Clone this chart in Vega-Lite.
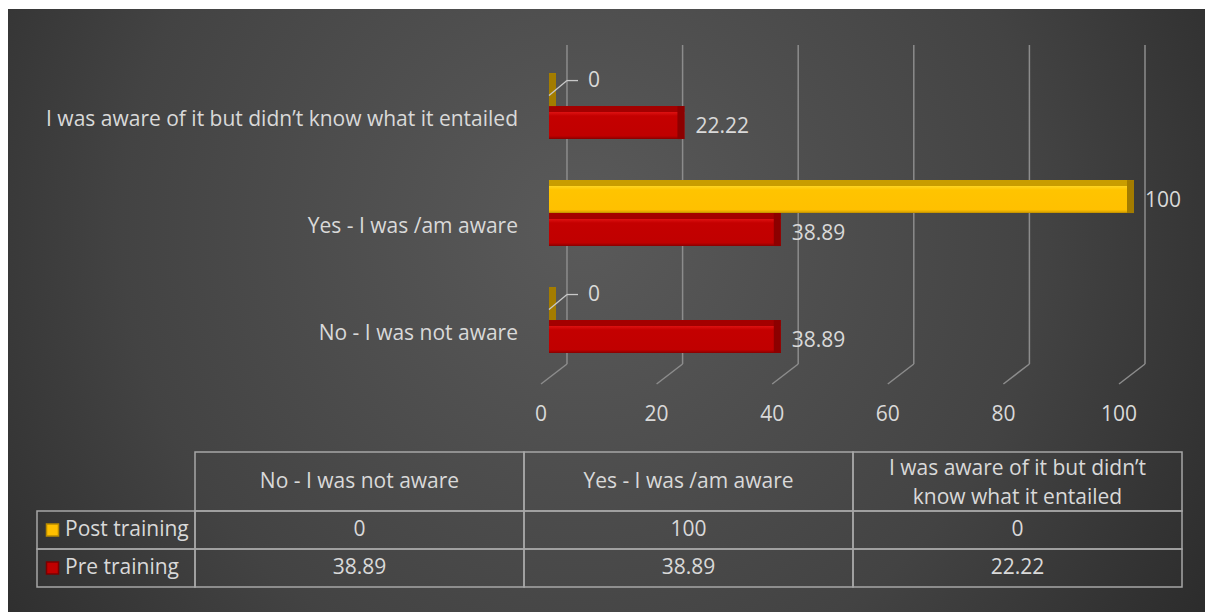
{
  "$schema": "https://vega.github.io/schema/vega-lite/v6.json",
  "width": 1205,
  "height": 612,
  "autosize": {"type": "fit", "contains": "padding"},
  "padding": {"left": 8, "top": 9, "right": 0, "bottom": 0},
  "background": "#ffffff",
  "datasets": {
    "main": [
      {"series": "Post training", "cat": "No - I was not aware", "value": 0},
      {"series": "Post training", "cat": "Yes - I was /am aware", "value": 100},
      {"series": "Post training", "cat": "I was aware of it but didn’t know what it entailed", "value": 0},
      {"series": "Pre training", "cat": "No - I was not aware", "value": 38.89},
      {"series": "Pre training", "cat": "Yes - I was /am aware", "value": 38.89},
      {"series": "Pre training", "cat": "I was aware of it but didn’t know what it entailed", "value": 22.22}
    ],
    "ticks": [{"t": 0}, {"t": 20}, {"t": 40}, {"t": 60}, {"t": 80}, {"t": 100}],
    "cats": [
      {"cat": "No - I was not aware", "lines": "No - I was not aware", "wrapped": false},
      {"cat": "Yes - I was /am aware", "lines": "Yes - I was /am aware", "wrapped": false},
      {"cat": "I was aware of it but didn’t know what it entailed", "lines": "I was aware of it but didn’t\nknow what it entailed", "wrapped": true}
    ],
    "rows": [{"series": "Post training"}, {"series": "Pre training"}]
  },
  "layer": [
    {
      "layer": [
        {
          "data": {"name": "ticks"},
          "mark": {"type": "rule", "stroke": "#8c8c8c", "strokeWidth": 1.5},
          "encoding": {
            "x": {"field": "t", "type": "quantitative", "scale": {"domain": [-96.71, 110.38], "nice": false, "zero": false}, "axis": null},
            "y": {"datum": "I was aware of it but didn’t know what it entailed", "type": "nominal", "bandPosition": -0.195, "scale": {"domain": ["I was aware of it but didn’t know what it entailed", "Yes - I was /am aware", "No - I was not aware"], "range": [36, 355], "paddingInner": 0.178, "paddingOuter": 0.08, "align": 1}, "axis": null},
            "y2": {"datum": "No - I was not aware", "bandPosition": 1}
          }
        },
        {
          "data": {"name": "ticks"},
          "mark": {"type": "rule", "stroke": "#8c8c8c", "strokeWidth": 1.5, "x2Offset": -26, "y2Offset": 20},
          "encoding": {
            "x": {"field": "t", "type": "quantitative", "scale": {"domain": [-96.71, 110.38], "nice": false, "zero": false}, "axis": null},
            "x2": {"field": "t"},
            "y": {"datum": "No - I was not aware", "type": "nominal", "bandPosition": 1, "scale": {"domain": ["I was aware of it but didn’t know what it entailed", "Yes - I was /am aware", "No - I was not aware"], "range": [36, 355], "paddingInner": 0.178, "paddingOuter": 0.08, "align": 1}, "axis": null},
            "y2": {"datum": "No - I was not aware", "bandPosition": 1}
          }
        },
        {
          "data": {"name": "ticks"},
          "mark": {"type": "text", "align": "center", "baseline": "middle", "dx": -26, "dy": 95, "fontSize": 21, "fill": "#d9d9d9"},
          "encoding": {
            "x": {"field": "t", "type": "quantitative", "scale": {"domain": [-96.71, 110.38], "nice": false, "zero": false}, "axis": null},
            "y": {"datum": "No - I was not aware", "type": "nominal", "scale": {"domain": ["I was aware of it but didn’t know what it entailed", "Yes - I was /am aware", "No - I was not aware"], "range": [36, 355], "paddingInner": 0.178, "paddingOuter": 0.08, "align": 1}, "axis": null},
            "text": {"field": "t", "type": "nominal"}
          }
        },
        {
          "data": {"name": "cats"},
          "mark": {"type": "text", "align": "right", "baseline": "middle", "dx": -49, "dy": 13.5, "fontSize": 21, "fill": "#d9d9d9"},
          "encoding": {
            "x": {"datum": 0, "type": "quantitative", "scale": {"domain": [-96.71, 110.38], "nice": false, "zero": false}, "axis": null},
            "y": {"field": "cat", "type": "nominal", "scale": {"domain": ["I was aware of it but didn’t know what it entailed", "Yes - I was /am aware", "No - I was not aware"], "range": [36, 355], "paddingInner": 0.178, "paddingOuter": 0.08, "align": 1}, "axis": null},
            "text": {"field": "cat", "type": "nominal"}
          }
        },
        {
          "data": {"name": "main"},
          "transform": [{"filter": "datum.series === 'Post training'"}],
          "mark": {"type": "bar", "xOffset": -11, "x2Offset": -18,
            "fill": {"gradient": "linear", "x1": 0, "y1": 0, "x2": 0, "y2": 1, "stops": [
              {"offset": 0, "color": "#c99d00"}, {"offset": 0.17, "color": "#c99d00"}, {"offset": 0.19, "color": "#ffd31f"},
              {"offset": 0.3, "color": "#ffc400"}, {"offset": 0.9, "color": "#ffc000"}, {"offset": 0.96, "color": "#e0a800"}, {"offset": 1, "color": "#b88a00"}]}},
          "encoding": {
            "x": {"field": "value", "type": "quantitative", "scale": {"domain": [-96.71, 110.38], "nice": false, "zero": false}, "axis": null},
            "x2": {"datum": 0},
            "y": {"field": "cat", "type": "nominal", "scale": {"domain": ["I was aware of it but didn’t know what it entailed", "Yes - I was /am aware", "No - I was not aware"], "range": [36, 355], "paddingInner": 0.178, "paddingOuter": 0.08, "align": 1}, "axis": null},
            "yOffset": {"field": "series", "type": "nominal", "scale": {"domain": ["Post training", "Pre training"], "paddingInner": 0, "paddingOuter": 0.333}}
          }
        },
        {
          "data": {"name": "main"},
          "transform": [{"filter": "datum.series === 'Pre training'"}],
          "mark": {"type": "bar", "xOffset": -11, "x2Offset": -18,
            "fill": {"gradient": "linear", "x1": 0, "y1": 0, "x2": 0, "y2": 1, "stops": [
              {"offset": 0, "color": "#a30000"}, {"offset": 0.17, "color": "#a30000"}, {"offset": 0.19, "color": "#dc1010"},
              {"offset": 0.3, "color": "#c40000"}, {"offset": 0.9, "color": "#c00000"}, {"offset": 0.96, "color": "#a00000"}, {"offset": 1, "color": "#850000"}]}},
          "encoding": {
            "x": {"field": "value", "type": "quantitative", "scale": {"domain": [-96.71, 110.38], "nice": false, "zero": false}, "axis": null},
            "x2": {"datum": 0},
            "y": {"field": "cat", "type": "nominal", "scale": {"domain": ["I was aware of it but didn’t know what it entailed", "Yes - I was /am aware", "No - I was not aware"], "range": [36, 355], "paddingInner": 0.178, "paddingOuter": 0.08, "align": 1}, "axis": null},
            "yOffset": {"field": "series", "type": "nominal", "scale": {"domain": ["Post training", "Pre training"], "paddingInner": 0, "paddingOuter": 0.333}}
          }
        },
        {
          "data": {"name": "main"},
          "mark": {"type": "bar", "xOffset": -11, "x2Offset": -18},
          "encoding": {
            "x": {"field": "value", "type": "quantitative", "scale": {"domain": [-96.71, 110.38], "nice": false, "zero": false}, "axis": null},
            "x2": {"field": "value"},
            "y": {"field": "cat", "type": "nominal", "scale": {"domain": ["I was aware of it but didn’t know what it entailed", "Yes - I was /am aware", "No - I was not aware"], "range": [36, 355], "paddingInner": 0.178, "paddingOuter": 0.08, "align": 1}, "axis": null},
            "yOffset": {"field": "series", "type": "nominal", "scale": {"domain": ["Post training", "Pre training"], "paddingInner": 0, "paddingOuter": 0.333}},
            "fill": {"field": "series", "type": "nominal", "scale": {"domain": ["Post training", "Pre training"], "range": ["#a37c00", "#8c0000"]}, "legend": null}
          }
        },
        {
          "data": {"name": "main"},
          "transform": [{"filter": "datum.value > 0"}],
          "mark": {"type": "text", "align": "left", "baseline": "middle", "dy": 4, "fontSize": 21, "fill": "#d9d9d9"},
          "encoding": {
            "x": {"field": "value", "type": "quantitative", "scale": {"domain": [-96.71, 110.38], "nice": false, "zero": false}, "axis": null},
            "y": {"field": "cat", "type": "nominal", "scale": {"domain": ["I was aware of it but didn’t know what it entailed", "Yes - I was /am aware", "No - I was not aware"], "range": [36, 355], "paddingInner": 0.178, "paddingOuter": 0.08, "align": 1}, "axis": null},
            "yOffset": {"field": "series", "type": "nominal", "scale": {"domain": ["Post training", "Pre training"], "paddingInner": 0, "paddingOuter": 0.333}},
            "text": {"field": "value", "type": "nominal"}
          }
        },
        {
          "data": {"name": "main"},
          "transform": [{"filter": "datum.value == 0"}],
          "mark": {"type": "rule", "stroke": "#c8c8c8", "strokeWidth": 1.3, "xOffset": -18, "x2Offset": 0},
          "encoding": {
            "x": {"field": "value", "type": "quantitative", "scale": {"domain": [-96.71, 110.38], "nice": false, "zero": false}, "axis": null},
            "x2": {"field": "value"},
            "y": {"field": "cat", "type": "nominal", "bandPosition": 0.381, "scale": {"domain": ["I was aware of it but didn’t know what it entailed", "Yes - I was /am aware", "No - I was not aware"], "range": [36, 355], "paddingInner": 0.178, "paddingOuter": 0.08, "align": 1}, "axis": null},
            "y2": {"field": "cat", "bandPosition": 0.21}
          }
        },
        {
          "data": {"name": "main"},
          "transform": [{"filter": "datum.value == 0"}],
          "mark": {"type": "rule", "stroke": "#c8c8c8", "strokeWidth": 1.3, "xOffset": 0, "x2Offset": 11},
          "encoding": {
            "x": {"field": "value", "type": "quantitative", "scale": {"domain": [-96.71, 110.38], "nice": false, "zero": false}, "axis": null},
            "x2": {"field": "value"},
            "y": {"field": "cat", "type": "nominal", "bandPosition": 0.21, "scale": {"domain": ["I was aware of it but didn’t know what it entailed", "Yes - I was /am aware", "No - I was not aware"], "range": [36, 355], "paddingInner": 0.178, "paddingOuter": 0.08, "align": 1}, "axis": null}
          }
        },
        {
          "data": {"name": "main"},
          "transform": [{"filter": "datum.value == 0"}],
          "mark": {"type": "text", "align": "left", "baseline": "middle", "dx": 21, "fontSize": 21, "fill": "#d9d9d9"},
          "encoding": {
            "x": {"field": "value", "type": "quantitative", "scale": {"domain": [-96.71, 110.38], "nice": false, "zero": false}, "axis": null},
            "y": {"field": "cat", "type": "nominal", "bandPosition": 0.21, "scale": {"domain": ["I was aware of it but didn’t know what it entailed", "Yes - I was /am aware", "No - I was not aware"], "range": [36, 355], "paddingInner": 0.178, "paddingOuter": 0.08, "align": 1}, "axis": null},
            "text": {"field": "value", "type": "nominal"}
          }
        }
      ]
    },
    {
      "layer": [
        {
          "data": {"name": "main"},
          "mark": {"type": "rect", "fill": "transparent", "stroke": "#a6a6a6", "strokeWidth": 1.5},
          "encoding": {
            "x": {"field": "cat", "type": "nominal", "scale": {"domain": ["No - I was not aware", "Yes - I was /am aware", "I was aware of it but didn’t know what it entailed"], "range": [187, 1174], "paddingInner": 0, "paddingOuter": 0}, "axis": null},
            "y": {"field": "series", "type": "nominal", "scale": {"domain": ["Post training", "Pre training"], "range": [502, 578], "paddingInner": 0, "paddingOuter": 0}, "axis": null}
          }
        },
        {
          "data": {"name": "main"},
          "mark": {"type": "text", "align": "center", "baseline": "middle", "fontSize": 21, "fill": "#d9d9d9"},
          "encoding": {
            "x": {"field": "cat", "type": "nominal", "scale": {"domain": ["No - I was not aware", "Yes - I was /am aware", "I was aware of it but didn’t know what it entailed"], "range": [187, 1174], "paddingInner": 0, "paddingOuter": 0}, "axis": null},
            "y": {"field": "series", "type": "nominal", "scale": {"domain": ["Post training", "Pre training"], "range": [502, 578], "paddingInner": 0, "paddingOuter": 0}, "axis": null},
            "text": {"field": "value", "type": "nominal"}
          }
        },
        {
          "data": {"name": "cats"},
          "mark": {"type": "rect", "fill": "transparent", "stroke": "#a6a6a6", "strokeWidth": 1.5},
          "encoding": {
            "x": {"field": "cat", "type": "nominal", "scale": {"domain": ["No - I was not aware", "Yes - I was /am aware", "I was aware of it but didn’t know what it entailed"], "range": [187, 1174], "paddingInner": 0, "paddingOuter": 0}, "axis": null},
            "y": {"datum": "header", "type": "nominal", "scale": {"domain": ["header"], "range": [443, 502], "paddingInner": 0, "paddingOuter": 0}, "axis": null}
          }
        },
        {
          "data": {"name": "cats"},
          "transform": [{"filter": "!datum.wrapped"}],
          "mark": {"type": "text", "align": "center", "baseline": "middle", "fontSize": 21, "fill": "#d9d9d9"},
          "encoding": {
            "x": {"field": "cat", "type": "nominal", "scale": {"domain": ["No - I was not aware", "Yes - I was /am aware", "I was aware of it but didn’t know what it entailed"], "range": [187, 1174], "paddingInner": 0, "paddingOuter": 0}, "axis": null},
            "y": {"datum": "header", "type": "nominal", "scale": {"domain": ["header"], "range": [443, 502], "paddingInner": 0, "paddingOuter": 0}, "axis": null},
            "text": {"field": "lines", "type": "nominal"}
          }
        },
        {
          "data": {"name": "cats"},
          "transform": [{"filter": "datum.wrapped"}],
          "mark": {"type": "text", "align": "center", "baseline": "middle", "dy": -13, "fontSize": 21, "fill": "#d9d9d9", "lineBreak": "\n", "lineHeight": 29},
          "encoding": {
            "x": {"field": "cat", "type": "nominal", "scale": {"domain": ["No - I was not aware", "Yes - I was /am aware", "I was aware of it but didn’t know what it entailed"], "range": [187, 1174], "paddingInner": 0, "paddingOuter": 0}, "axis": null},
            "y": {"datum": "header", "type": "nominal", "scale": {"domain": ["header"], "range": [443, 502], "paddingInner": 0, "paddingOuter": 0}, "axis": null},
            "text": {"field": "lines", "type": "nominal"}
          }
        },
        {
          "data": {"name": "rows"},
          "mark": {"type": "rect", "fill": "transparent", "stroke": "#a6a6a6", "strokeWidth": 1.5},
          "encoding": {
            "x": {"datum": "label", "type": "nominal", "scale": {"domain": ["label"], "range": [29, 187], "paddingInner": 0, "paddingOuter": 0}, "axis": null},
            "y": {"field": "series", "type": "nominal", "scale": {"domain": ["Post training", "Pre training"], "range": [502, 578], "paddingInner": 0, "paddingOuter": 0}, "axis": null}
          }
        },
        {
          "data": {"name": "rows"},
          "mark": {"type": "text", "align": "left", "baseline": "middle", "dx": -51, "fontSize": 21, "fill": "#d9d9d9"},
          "encoding": {
            "x": {"datum": "label", "type": "nominal", "scale": {"domain": ["label"], "range": [29, 187], "paddingInner": 0, "paddingOuter": 0}, "axis": null},
            "y": {"field": "series", "type": "nominal", "scale": {"domain": ["Post training", "Pre training"], "range": [502, 578], "paddingInner": 0, "paddingOuter": 0}, "axis": null},
            "text": {"field": "series", "type": "nominal"}
          }
        },
        {
          "data": {"name": "rows"},
          "mark": {"type": "square", "size": 144, "opacity": 1, "strokeWidth": 1.5, "xOffset": -63.5},
          "encoding": {
            "x": {"datum": "label", "type": "nominal", "scale": {"domain": ["label"], "range": [29, 187], "paddingInner": 0, "paddingOuter": 0}, "axis": null},
            "y": {"field": "series", "type": "nominal", "scale": {"domain": ["Post training", "Pre training"], "range": [502, 578], "paddingInner": 0, "paddingOuter": 0}, "axis": null},
            "fill": {"field": "series", "type": "nominal", "scale": {"domain": ["Post training", "Pre training"], "range": ["#ffc000", "#c00000"]}, "legend": null},
            "stroke": {"field": "series", "type": "nominal", "scale": {"domain": ["Post training", "Pre training"], "range": ["#b88a00", "#7a0000"]}, "legend": null}
          }
        }
      ],
      "resolve": {"scale": {"x": "independent", "y": "independent", "fill": "independent", "stroke": "independent"}}
    }
  ],
  "resolve": {"scale": {"x": "independent", "y": "independent", "fill": "independent"}},
  "config": {
    "font": "Open Sans",
    "text": {"font": "Open Sans"},
    "view": {
      "stroke": null,
      "fill": {"gradient": "radial", "x1": 0.48, "y1": 0.43, "r1": 0, "x2": 0.48, "y2": 0.43, "r2": 0.7, "stops": [
        {"offset": 0, "color": "#5a5a5a"}, {"offset": 0.55, "color": "#434343"}, {"offset": 1, "color": "#232323"}]}
    }
  }
}
